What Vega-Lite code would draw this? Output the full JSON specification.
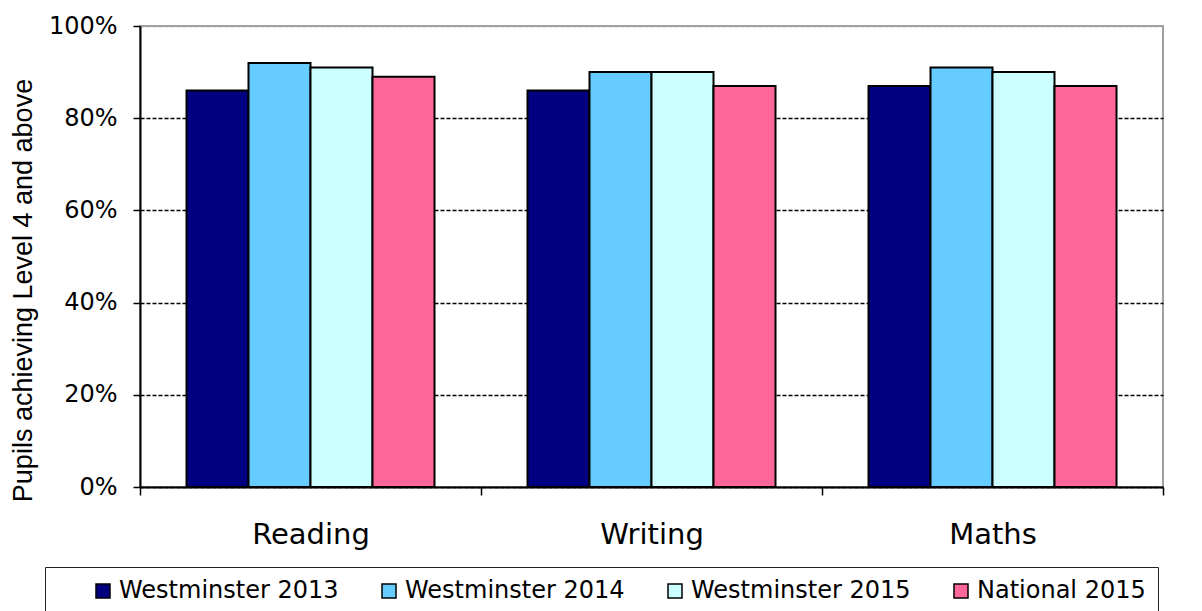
{
  "$schema": "https://vega.github.io/schema/vega-lite/v6.json",
  "width": 1023,
  "height": 461,
  "autosize": {"type": "none"},
  "padding": {"left": 140, "top": 26, "right": 39, "bottom": 124},
  "background": "white",
  "data": {
    "values": [
      {"subject": "Reading", "series": "Westminster 2013", "value": 0.86},
      {"subject": "Reading", "series": "Westminster 2014", "value": 0.92},
      {"subject": "Reading", "series": "Westminster 2015", "value": 0.91},
      {"subject": "Reading", "series": "National 2015", "value": 0.89},
      {"subject": "Writing", "series": "Westminster 2013", "value": 0.86},
      {"subject": "Writing", "series": "Westminster 2014", "value": 0.90},
      {"subject": "Writing", "series": "Westminster 2015", "value": 0.90},
      {"subject": "Writing", "series": "National 2015", "value": 0.87},
      {"subject": "Maths", "series": "Westminster 2013", "value": 0.87},
      {"subject": "Maths", "series": "Westminster 2014", "value": 0.91},
      {"subject": "Maths", "series": "Westminster 2015", "value": 0.90},
      {"subject": "Maths", "series": "National 2015", "value": 0.87}
    ]
  },
  "mark": {"type": "bar", "stroke": "black", "strokeWidth": 2},
  "encoding": {
    "x": {
      "field": "subject",
      "type": "nominal",
      "sort": ["Reading", "Writing", "Maths"],
      "scale": {"paddingInner": 0, "paddingOuter": 0},
      "axis": {
        "title": null,
        "labelAngle": 0,
        "tickBand": "extent",
        "labelFont": "DejaVu Sans",
        "labelFontSize": 29,
        "labelColor": "black",
        "labelPadding": 25,
        "tickSize": 8,
        "tickColor": "black",
        "tickWidth": 1.5,
        "domainColor": "black",
        "domainWidth": 2,
        "grid": false
      }
    },
    "xOffset": {
      "field": "series",
      "type": "nominal",
      "sort": ["Westminster 2013", "Westminster 2014", "Westminster 2015", "National 2015"],
      "scale": {"paddingInner": 0, "paddingOuter": 0.75}
    },
    "y": {
      "field": "value",
      "type": "quantitative",
      "scale": {"domain": [0, 1], "nice": false},
      "axis": {
        "title": "Pupils achieving Level 4 and above",
        "titleFont": "Liberation Sans",
        "titleFontSize": 27,
        "titleFontWeight": "normal",
        "titleColor": "black",
        "titleX": -117,
        "titleY": 264,
        "titleAngle": -90,
        "titleAlign": "center",
        "titleBaseline": "middle",
        "values": [0, 0.2, 0.4, 0.6, 0.8, 1],
        "format": ".0%",
        "labelFont": "DejaVu Sans",
        "labelFontSize": 24,
        "labelColor": "black",
        "labelPadding": 16,
        "tickSize": 7,
        "tickColor": "black",
        "tickWidth": 1.5,
        "domainColor": "black",
        "domainWidth": 2,
        "grid": true,
        "gridColor": {"condition": {"test": "datum.value >= 1", "value": "#a0a0a0"}, "value": "black"},
        "gridDash": [4, 2],
        "gridWidth": 1.5
      }
    },
    "color": {
      "field": "series",
      "type": "nominal",
      "sort": ["Westminster 2013", "Westminster 2014", "Westminster 2015", "National 2015"],
      "scale": {
        "domain": ["Westminster 2013", "Westminster 2014", "Westminster 2015", "National 2015"],
        "range": ["#000080", "#66CCFF", "#CCFFFF", "#FF6699"]
      },
      "legend": {
        "orient": "none",
        "legendX": -95,
        "legendY": 541,
        "direction": "horizontal",
        "columns": 4,
        "gridAlign": "each",
        "title": " ",
        "titleOrient": "left",
        "titlePadding": 34,
        "titleFontSize": 8,
        "padding": 12,
        "strokeColor": "#222222",
        "fillColor": "white",
        "labelFont": "DejaVu Sans",
        "labelFontSize": 24,
        "labelColor": "black",
        "labelOffset": 4,
        "labelLimit": 500,
        "labelExpr": "datum.label == 'National 2015' ? datum.label + '\u00a0\u00a0\u00a0\u00a0\u00a0\u00a0\u00a0\u00a0\u00a0\u00a0\u00a0\u00a0' : datum.label",
        "symbolType": "square",
        "symbolSize": 196,
        "symbolStrokeColor": "black",
        "symbolStrokeWidth": 1.5,
        "columnPadding": 38
      }
    }
  },
  "config": {
    "view": {"stroke": "#a0a0a0", "strokeWidth": 2}
  }
}
